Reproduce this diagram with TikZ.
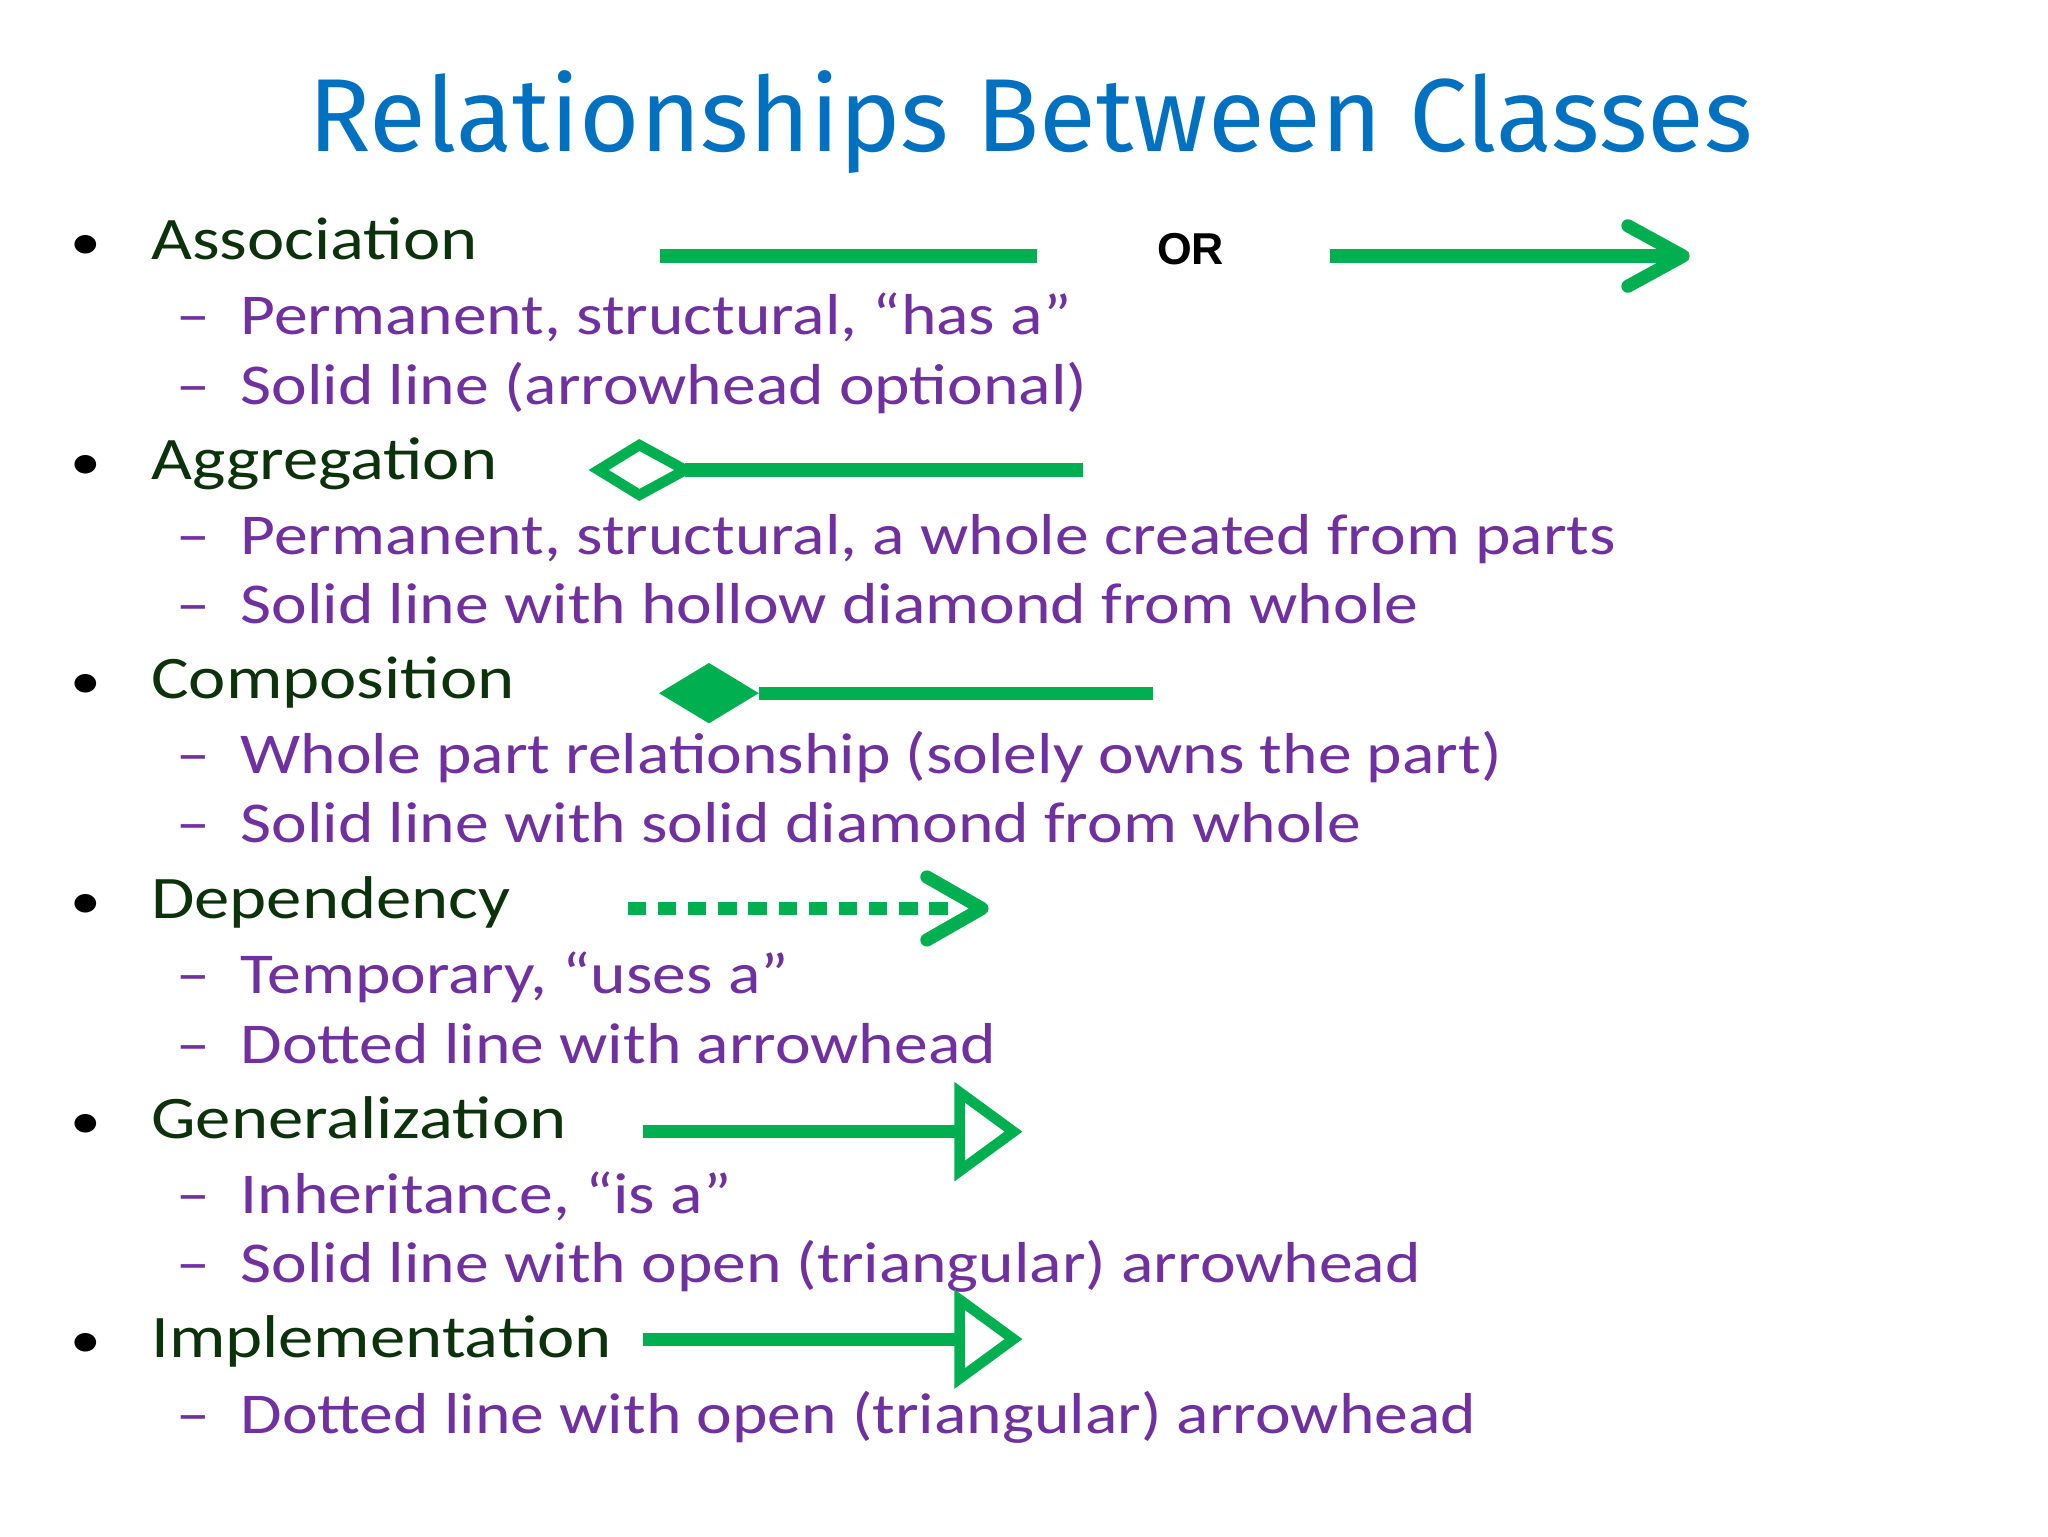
\documentclass[tikz,border=0pt]{standalone}
\usepackage{fontspec}
\setmainfont[FakeStretch=1.17]{Carlito}
\newfontfamily\titlefont{Fira Sans}
\newfontfamily\orfont{Liberation Sans}
\usetikzlibrary{arrows.meta}
\definecolor{ugreen}{RGB}{0,176,80}
\definecolor{tblue}{RGB}{0,112,192}
\definecolor{dgreen}{RGB}{12,50,12}
\definecolor{purp}{RGB}{112,48,160}
\tikzset{
 head/.style={anchor=base west,inner sep=0,text=dgreen,font=\fontsize{46}{50}\selectfont},
 sub/.style={anchor=base west,inner sep=0,text=purp,font=\fontsize{44}{48}\selectfont},
 bul/.style={anchor=base,inner sep=0,text=black,font=\fontsize{40}{44}\selectfont},
 rel/.style={draw=ugreen,line width=10pt},
}
\begin{document}
\begin{tikzpicture}[x=1pt,y=-1pt]
\useasboundingbox[fill=white] (0,0) rectangle (1560,1170);
\node[inner sep=0,text=tblue,font=\titlefont\fontsize{79}{88}\selectfont] (title) at (785,93) {Relationships Between Classes};
\foreach \y/\t in {198/Association,365/Aggregation,532/Composition,700/Dependency,867/Generalization,1034/Implementation}{
  \node[bul] at (65,\y) {•};
  \node[head] at (115,\y) {\t};
}
\foreach \y/\t in {255/{Permanent, structural, “has a”},308/{Solid line (arrowhead optional)},422/{Permanent, structural, a whole created from parts},475/{Solid line with hollow diamond from whole},589/{Whole part relationship (solely owns the part)},642/{Solid line with solid diamond from whole},757/{Temporary, “uses a”},810/{Dotted line with arrowhead},924/{Inheritance, “is a”},977/{Solid line with open (triangular) arrowhead},1092/{Dotted line with open (triangular) arrowhead}}{
  \node[sub] at (183,\y) {\t};
  \node[sub,anchor=base] at (147,\y) {–};
}
% Association
\coordinate (a1) at (503,195); \coordinate (a2) at (790,195);
\draw[rel] (a1) -- (a2);
\node[font=\orfont\bfseries\fontsize{34}{38}\selectfont,inner sep=0] (or) at (907,190) {OR};
\coordinate (b1) at (1013,195); \coordinate (b2) at (1282,195);
\draw[rel] (b1) -- (b2);
\draw[rel,line cap=round,line join=round] (1240,172) -- (b2) -- (1240,218);
% Aggregation
\coordinate (g1) at (825,358); \coordinate (g2) at (522,358);
\draw[rel] (g1) -- (g2);
\draw[draw=ugreen,line width=8pt,line join=miter] (g2) -- (487,339) -- (456,358) -- (487,377) -- cycle;
% Composition
\coordinate (c1) at (878,528); \coordinate (c2) at (578,528);
\draw[rel] (c1) -- (c2);
\fill[ugreen] (c2) -- (540,505) -- (502,528) -- (540,551) -- cycle;
% Dependency
\coordinate (d1) at (478,692); \coordinate (d2) at (748,692);
\draw[rel,dash pattern=on 14pt off 9pt] (d1) -- (725,692);
\draw[rel,line cap=round,line join=round] (706,668) -- (d2) -- (706,716);
% Generalization / Implementation
\foreach \y in {862,1020}{
 \draw[rel] (490,\y) -- (728,\y);
 \draw[draw=ugreen,line width=8pt,line join=miter] (731,\y-30) -- (772,\y) -- (731,\y+30) -- cycle;
}
\end{tikzpicture}
\end{document}
